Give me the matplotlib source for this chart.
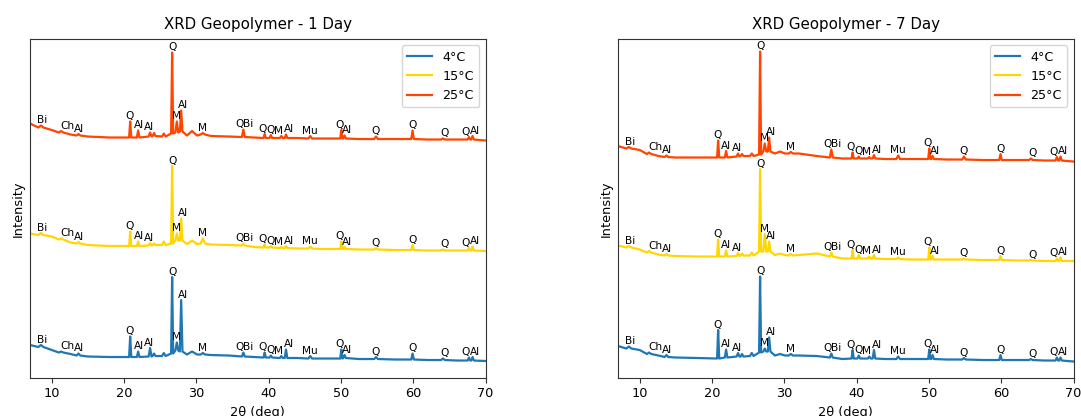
import numpy as np
import matplotlib
matplotlib.use("Agg")
import matplotlib.pyplot as plt

# 2theta grid for background points (between peaks)
bg_x = [7.0, 10.0, 12.6, 15.0, 18.0, 32.0, 34.5, 38.0, 44.0, 47.5, 52.5, 57.5, 62.0, 66.0, 70.0]

# reflections (deg 2theta) and their base half-widths
peak_pos = [8.5, 11.3, 13.7, 20.85, 21.95, 23.6, 24.15, 25.5, 26.65, 27.3, 27.9, 29.4, 30.9,
            36.5, 39.45, 40.3, 41.75, 42.4, 45.75, 50.05, 50.5, 54.85, 59.9, 64.1, 67.7, 68.2]
peak_width = [0.35, 0.3, 0.25, 0.15, 0.18, 0.2, 0.2, 0.25, 0.14, 0.2, 0.18, 0.7, 0.3,
              0.2, 0.15, 0.18, 0.2, 0.18, 0.25, 0.15, 0.18, 0.25, 0.18, 0.25, 0.18, 0.18]

# phase labels: (text, 2theta of label, index of peak it sits on)
phase_labels = [("Bi", 8.7, 0), ("Ch", 12.2, 1), ("Al", 13.8, 2), ("Q", 20.7, 3), ("Al", 22.0, 4),
                ("Al", 23.5, 5), ("Q", 26.65, 8), ("M", 27.2, 9), ("Al", 28.1, 10), ("M", 30.9, 12),
                ("Q", 36.0, 13), ("Bi", 37.1, 13), ("Q", 39.2, 14), ("Q", 40.2, 15), ("M", 41.4, 16),
                ("Al", 42.8, 17), ("Mu", 45.7, 18), ("Q", 49.8, 19), ("Al", 50.9, 20), ("Q", 54.85, 21),
                ("Q", 59.85, 22), ("Q", 64.3, 23), ("Q", 67.3, 24), ("Al", 68.6, 25)]

# ---- 1 day, stacked intensities (a.u.) ----
d1_4c_bg = [32.5, 27.5, 23.5, 21, 20.5, 22.5, 22, 20.5, 19.5, 19, 18.5, 18, 17.5, 17, 16.5]
d1_4c_base = [30.5, 25, 22, 20.5, 20.5, 21, 21.5, 21.5, 24, 27, 26, 23, 23,
              21, 20, 20, 19.5, 19.5, 19, 19, 19.5, 18.5, 18, 17.5, 17, 17]
d1_4c_top = [32.5, 26, 24, 41, 26, 29.5, 24, 24.5, 100.5, 35, 77.5, 26, 24.5,
             25, 25, 22, 21.5, 28, 21.5, 28, 22.5, 20.5, 24, 19, 20, 20.5]

d1_15c_bg = [144, 141, 135, 132.5, 131.5, 133, 132.5, 130.5, 129, 128.5, 128, 127.5, 127, 127, 126.5]
d1_15c_base = [142.5, 138, 134, 131.5, 131.5, 132, 132.5, 132.5, 134, 137, 137, 133.5, 134,
               132, 130, 130, 129.5, 129.5, 129, 128.5, 128.5, 128, 127.5, 127, 127, 127]
d1_15c_top = [144.5, 139, 135.5, 146, 136, 134.5, 134, 136, 211.5, 144, 159, 137, 139,
              134, 133.5, 131.5, 130.5, 131.5, 131, 136, 130.5, 129.5, 132.5, 128, 129.5, 131]

d1_25c_bg = [254, 247.5, 243, 241, 240, 241.5, 241, 240, 239.5, 239, 238.5, 238.5, 238, 238, 237]
d1_25c_base = [250, 245, 242, 240, 240, 241, 241.5, 241, 244, 245, 246, 242, 243,
               240.5, 239.5, 239.5, 239.5, 239.5, 239, 239, 239, 238.5, 238.5, 238, 238, 238]
d1_25c_top = [252, 246.5, 243.5, 256, 247, 245, 244.5, 244, 325, 256, 267, 246.5, 244.5,
              248, 243.5, 242.5, 241.5, 243, 241.5, 247.5, 242, 241, 247, 239, 240.5, 241.5]

# ---- 7 day ----
d7_4c_bg = [31.5, 27.5, 22, 20, 19.5, 22, 21.5, 18.5, 18.5, 18.5, 18, 17.5, 17.5, 17, 16]
d7_4c_base = [29, 23.5, 20.5, 19, 20, 21, 21, 21.5, 25, 26, 26, 22, 22,
              20, 19, 19, 19, 19, 18.5, 18.5, 18.5, 18, 17.5, 17.5, 17, 17]
d7_4c_top = [31, 25, 22.5, 47.5, 28, 24.5, 23.5, 24.5, 101, 29, 40, 23.5, 23.5,
             24, 27.5, 22, 21, 27.5, 21, 28, 22.5, 19.5, 22.5, 18.5, 20, 20]

d7_15c_bg = [132, 128, 123, 121.5, 121, 122.5, 124, 119, 118.5, 118, 118, 117.5, 117, 116.5, 116.5]
d7_15c_base = [130, 125, 122, 121, 121, 121.5, 122, 122, 126, 126, 126, 122.5, 122,
               121, 119, 119, 119, 119, 118.5, 118, 118, 118, 117.5, 117, 116.5, 116.5]
d7_15c_top = [131.5, 126.5, 123.5, 138, 127, 124.5, 124, 125, 208.5, 143.5, 136, 124, 123.5,
              125, 127.5, 122.5, 121, 122.5, 120, 130, 121.5, 119, 121.5, 117.5, 119, 120]

d7_25c_bg = [231.5, 227.5, 221.5, 220, 220, 224, 221.5, 219, 218.5, 218.5, 218, 217.5, 217.5, 217, 216]
d7_25c_base = [229, 223.5, 220.5, 220, 220, 221, 221.5, 221.5, 223, 226, 226, 224, 224,
               220, 219, 219, 219, 219, 218.5, 218.5, 218.5, 218, 217.5, 217.5, 217, 217]
d7_25c_top = [230.5, 225, 222, 237, 226.5, 224, 223.5, 224, 326, 234, 240, 226, 225.5,
              228, 225, 221, 220.5, 222.5, 222, 229, 221.5, 221, 223.5, 219, 220.5, 221]

temps = ["4°C", "15°C", "25°C"]
colors = ["#1f77b4", "#ffd700", "#ff4500"]


def build_trace(bg_y, bases, tops):
    xs = list(bg_x)
    ys = list(bg_y)
    for p, w, b, t in zip(peak_pos, peak_width, bases, tops):
        xs += [p - w, p, p + w]
        ys += [b, t, b]
    order = np.argsort(xs)
    return np.array(xs)[order], np.array(ys)[order]


panels = [
    ("XRD Geopolymer - 1 Day", [(d1_4c_bg, d1_4c_base, d1_4c_top),
                                (d1_15c_bg, d1_15c_base, d1_15c_top),
                                (d1_25c_bg, d1_25c_base, d1_25c_top)]),
    ("XRD Geopolymer - 7 Day", [(d7_4c_bg, d7_4c_base, d7_4c_top),
                                (d7_15c_bg, d7_15c_base, d7_15c_top),
                                (d7_25c_bg, d7_25c_base, d7_25c_top)]),
]

fig = plt.figure(figsize=(10.81, 4.16), dpi=100)
ax_pos = [[0.0278, 0.0925, 0.4214, 0.8137], [0.5717, 0.0925, 0.4214, 0.8137]]

for pos, (title, traces) in zip(ax_pos, panels):
    ax = fig.add_axes(pos)
    for (bg, base, top), lab, col in zip(traces, temps, colors):
        x, y = build_trace(bg, base, top)
        ax.plot(x, y, color=col, lw=1.6, label=lab)
        for txt, lx, i in phase_labels:
            ax.text(lx, top[i] + 2.5, txt, ha="center", va="baseline", fontsize=7.6)
    ax.set_xlim(7, 70)
    ax.set_ylim(0, 338.5)
    ax.set_xticks([10, 20, 30, 40, 50, 60, 70])
    ax.set_yticks([])
    ax.tick_params(labelsize=9.3, color="#333333")
    for s in ax.spines.values():
        s.set_color("#333333")
    ax.set_xlabel("2θ (deg)", fontsize=9.3)
    ax.set_ylabel("Intensity", fontsize=9.3)
    ax.set_title(title, fontsize=10.8, pad=7)
    ax.legend(loc="upper right", fontsize=9.2)

fig.savefig("out.png", dpi=100)
